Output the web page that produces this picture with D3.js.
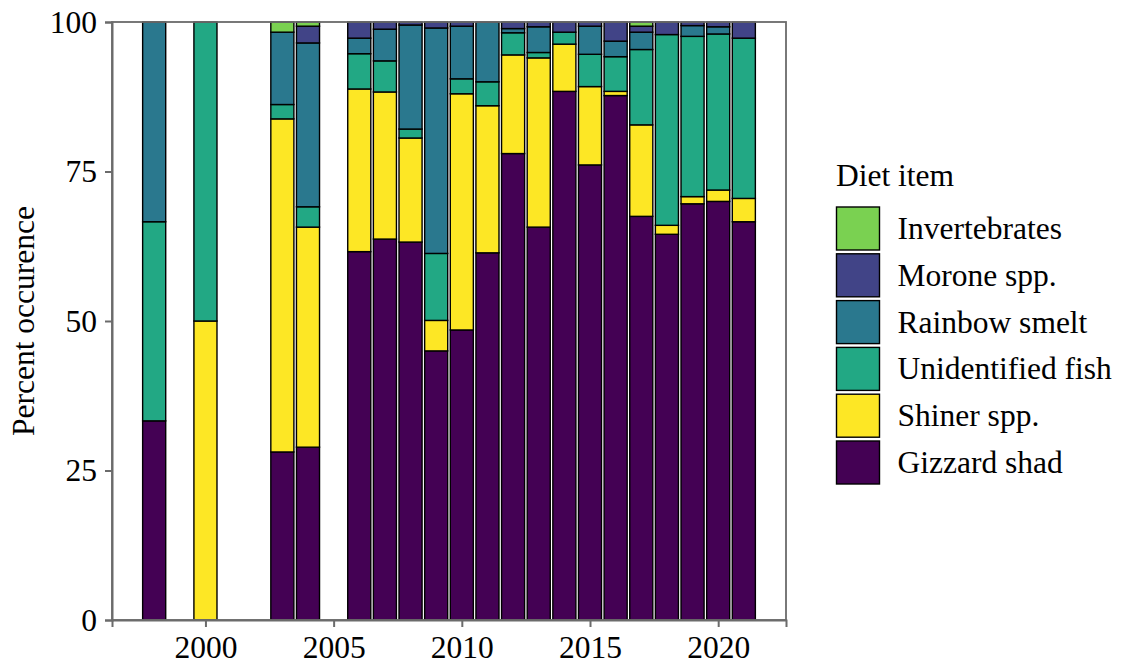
<!DOCTYPE html>
<html>
<head>
<meta charset="utf-8">
<script src="https://cdn.jsdelivr.net/npm/d3@7"></script>
<style>
  html, body { margin: 0; padding: 0; background: #fff; }
  svg { display: block; }
  text { font-family: "Liberation Serif", "Times New Roman", serif; fill: #000; }
</style>
</head>
<body>
<svg id="chart" width="1123" height="667"></svg>
<script>
// Sampling years
const years = [1998, 2000, 2003, 2004, 2006, 2007, 2008, 2009, 2010, 2011,
               2012, 2013, 2014, 2015, 2016, 2017, 2018, 2019, 2020, 2021];

// Percent occurrence of each diet item per year
const gizzardShad      = [33.3, 0, 28.1, 28.9, 61.6, 63.7, 63.2, 45.0, 48.5, 61.4,
                          78.0, 65.7, 88.4, 76.1, 87.7, 67.5, 64.5, 69.6, 70.0, 66.6];
const shinerSpp        = [0, 50, 55.7, 36.8, 27.2, 24.6, 17.4, 5.1, 39.5, 24.6,
                          16.5, 28.3, 7.9, 13.1, 0.7, 15.3, 1.5, 1.2, 1.9, 3.9];
const unidentifiedFish = [33.3, 50, 2.4, 3.4, 5.9, 5.2, 1.5, 11.2, 2.5, 4.0,
                          3.7, 0.9, 2.0, 5.4, 5.8, 12.6, 31.9, 26.8, 26.1, 26.8];
const rainbowSmelt     = [33.4, 0, 12.1, 27.4, 2.6, 5.3, 17.4, 37.7, 8.8, 10.0,
                          0.7, 4.3, 0, 4.7, 2.6, 2.9, 0, 1.8, 1.2, 0];
const moroneSpp        = [0, 0, 0, 2.8, 2.7, 1.2, 0.5, 1.0, 0.7, 0,
                          1.1, 0.8, 1.7, 0.7, 3.2, 1.0, 2.1, 0.6, 0.8, 2.7];
const invertebrates    = [0, 0, 1.7, 0.7, 0, 0, 0, 0, 0, 0,
                          0, 0, 0, 0, 0, 0.7, 0, 0, 0, 0];

// Stack order, bottom to top
const items = ["Gizzard shad", "Shiner spp.", "Unidentified fish",
               "Rainbow smelt", "Morone spp.", "Invertebrates"];
const itemColors = ["#440154", "#FDE725", "#22A884", "#2A788E", "#414487", "#7AD151"];
const yTicks = [0, 25, 50, 75, 100];
const xTicks = [2000, 2005, 2010, 2015, 2020];

const seriesByItem = {
  "Gizzard shad": gizzardShad,
  "Shiner spp.": shinerSpp,
  "Unidentified fish": unidentifiedFish,
  "Rainbow smelt": rainbowSmelt,
  "Morone spp.": moroneSpp,
  "Invertebrates": invertebrates
};

const rows = years.map((yr, i) => {
  const r = { year: yr };
  items.forEach(k => { r[k] = seriesByItem[k][i]; });
  return r;
});

const svg = d3.select("#chart");
const panel = { left: 112, right: 786, top: 22, bottom: 620 };
const fontSize = 31.5;
const axisGrey = "#6b6b6b";

// Continuous year axis, padded half a bar plus 5% each side
const barW = 0.9;
const lo = d3.min(years) - barW / 2, hi = d3.max(years) + barW / 2;
const pad = (hi - lo) * 0.05;
const x = d3.scaleLinear().domain([lo - pad, hi + pad]).range([panel.left, panel.right]);
const y = d3.scaleLinear().domain([0, 100]).range([panel.bottom, panel.top]);

const color = d3.scaleOrdinal().domain(items).range(itemColors);

const stacked = d3.stack().keys(items)(rows);
const pxW = x(barW) - x(0);

// Bars
const g = svg.append("g");
stacked.forEach(layer => {
  g.selectAll(null)
    .data(layer.filter(d => d[1] - d[0] > 0))
    .enter().append("rect")
    .attr("x", d => x(d.data.year) - pxW / 2)
    .attr("width", pxW)
    .attr("y", d => y(d[1]))
    .attr("height", d => y(d[0]) - y(d[1]))
    .attr("fill", color(layer.key))
    .attr("stroke", "#000")
    .attr("stroke-width", 1.4);
});

// Panel border
svg.append("rect")
  .attr("x", panel.left).attr("y", panel.top)
  .attr("width", panel.right - panel.left)
  .attr("height", panel.bottom - panel.top)
  .attr("fill", "none").attr("stroke", axisGrey).attr("stroke-width", 1.8);

// Y axis
const yAxis = svg.append("g")
  .attr("transform", `translate(${panel.left},0)`)
  .call(d3.axisLeft(y).tickValues(yTicks).tickSize(7).tickPadding(8));
yAxis.select(".domain").attr("stroke", axisGrey).attr("stroke-width", 2);
yAxis.selectAll(".tick line").attr("stroke", axisGrey).attr("stroke-width", 2);
yAxis.selectAll(".tick text")
  .attr("font-family", "Liberation Serif, Times New Roman, serif")
  .attr("font-size", fontSize).attr("fill", "#000");

// X axis
const xAxis = svg.append("g")
  .attr("transform", `translate(0,${panel.bottom})`)
  .call(d3.axisBottom(x).tickValues(xTicks).tickFormat(d3.format("d")).tickSize(7).tickPadding(9));
xAxis.select(".domain").attr("stroke", axisGrey).attr("stroke-width", 2);
xAxis.selectAll(".tick line").attr("stroke", axisGrey).attr("stroke-width", 2);
xAxis.selectAll(".tick text")
  .attr("font-family", "Liberation Serif, Times New Roman, serif")
  .attr("font-size", fontSize).attr("fill", "#000");

// Y axis title
svg.append("text")
  .attr("transform", `translate(34,${(panel.top + panel.bottom) / 2}) rotate(-90)`)
  .attr("text-anchor", "middle")
  .attr("font-size", fontSize)
  .text("Percent occurence");

// Legend (top entry is the top of the stack)
const legend = svg.append("g").attr("transform", "translate(836,0)");
legend.append("text")
  .attr("x", 0).attr("y", 186)
  .attr("font-size", fontSize)
  .text("Diet item");

const legendItems = items.slice().reverse();
const keySize = 43, keyStep = 46.8, keyTop = 207;
legendItems.forEach((name, i) => {
  const ky = keyTop + i * keyStep;
  legend.append("rect")
    .attr("x", 0.5).attr("y", ky)
    .attr("width", keySize).attr("height", keySize)
    .attr("fill", color(name))
    .attr("stroke", "#000").attr("stroke-width", 1.4);
  legend.append("text")
    .attr("x", 61.5).attr("y", ky + keySize / 2 + 10.5)
    .attr("font-size", fontSize)
    .text(name);
});
</script>
</body>
</html>
